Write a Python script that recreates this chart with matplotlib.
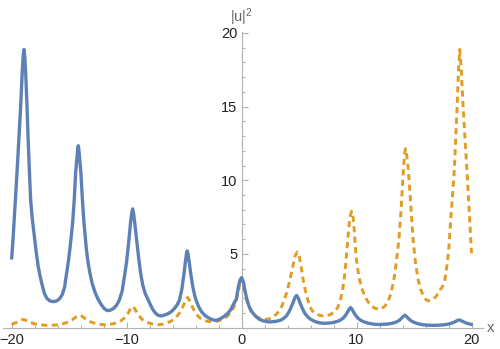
import matplotlib
matplotlib.use("Agg")
import matplotlib.pyplot as plt
from matplotlib.ticker import MultipleLocator

# |u|^2, solid curve
blue_x = [-20.0, -19.9, -19.8, -19.67, -19.54, -19.38, -19.22, -19.08, -19.0, -18.93,
          -18.86, -18.78, -18.68, -18.58, -18.47, -18.35, -18.2, -18.06, -17.88, -17.69,
          -17.53, -17.39, -17.16, -16.95, -16.7, -16.43, -16.15,
          -16.0, -15.8, -15.6, -15.4, -15.22, -15.05, -14.9, -14.7, -14.55, -14.44,
          -14.32, -14.26, -14.21, -14.16, -14.1, -13.98, -13.85, -13.71, -13.5, -13.35,
          -13.19, -13.0, -12.75, -12.5, -12.2, -11.95, -11.74, -11.55,
          -11.4, -11.15, -10.9, -10.65, -10.4, -10.15, -10.0, -9.8, -9.65, -9.55, -9.48,
          -9.41, -9.31, -9.13, -8.95, -8.78, -8.6, -8.4, -8.12, -7.9, -7.7, -7.5, -7.3,
          -7.1, -6.9,
          -6.7, -6.4, -6.1, -5.85, -5.6, -5.4, -5.2, -5.02, -4.9, -4.8, -4.73, -4.66,
          -4.55, -4.43, -4.25, -4.1, -3.97, -3.75, -3.5, -3.2, -2.9, -2.6, -2.32, -2.05,
          -1.8, -1.5, -1.2, -0.95, -0.7, -0.45, -0.3, -0.15, 0.0, 0.15, 0.3, 0.45, 0.65,
          0.85, 1.0, 1.25, 1.55, 1.9, 2.2, 2.46, 2.75,
          3.05, 3.35, 3.6, 3.85, 4.05, 4.25, 4.45, 4.62, 4.78, 4.94, 5.1, 5.3, 5.5, 5.72,
          5.98, 6.3, 6.65, 7.1, 7.5,
          7.9, 8.3, 8.6, 8.85, 9.05, 9.25, 9.38, 9.48, 9.58, 9.71, 9.91, 10.11, 10.36,
          10.7, 11.1, 11.5, 11.9, 12.3,
          12.7, 13.1, 13.45, 13.7, 13.9, 14.05, 14.2, 14.35, 14.5, 14.7, 14.95, 15.3,
          15.7, 16.2, 16.7, 17.1,
          17.5, 17.9, 18.2, 18.45, 18.65, 18.8, 18.92, 19.04, 19.2, 19.4, 19.65, 20.0]
blue_y = [4.71, 5.8, 7.1, 8.8, 10.49, 12.8, 15.0, 17.4, 18.5, 18.87,
          18.4, 17.2, 15.3, 13.0, 10.8, 8.66, 7.3, 6.41, 5.2, 4.14,
          3.5, 3.02, 2.34, 2.0, 1.83, 1.77, 1.8,
          1.86, 2.0, 2.25, 2.75, 3.69, 4.6, 5.6, 7.09, 8.8, 10.49,
          11.6, 12.1, 12.34, 12.1, 11.6, 10.49, 8.7, 7.09, 5.3, 4.4,
          3.69, 3.0, 2.4, 1.95, 1.55, 1.3, 1.18, 1.16,
          1.2, 1.3, 1.5, 1.85, 2.45, 3.69, 4.5, 5.96, 7.2, 7.8, 8.06,
          7.8, 7.2, 5.96, 4.7, 3.69, 2.9, 2.35, 1.88, 1.5, 1.2, 1.0, 0.86,
          0.8, 0.81,
          0.86, 0.95, 1.1, 1.3, 1.55, 1.9, 2.6, 3.6, 4.4, 5.0, 5.21, 5.0,
          4.4, 3.69, 2.8, 2.25, 1.88, 1.45, 1.1, 0.84, 0.68, 0.56, 0.5, 0.54,
          0.63, 0.78, 0.98, 1.22, 1.6, 1.95, 2.7, 3.2, 3.4, 3.1, 2.5, 1.95, 1.45,
          1.12, 0.98, 0.75, 0.57, 0.46, 0.41, 0.39, 0.41,
          0.44, 0.5, 0.6, 0.76, 0.98, 1.28, 1.65, 2.0, 2.19, 2.0, 1.65, 1.28, 0.98, 0.76,
          0.58, 0.45, 0.35, 0.3, 0.31,
          0.34, 0.42, 0.52, 0.66, 0.85, 1.1, 1.28, 1.37, 1.28, 1.1, 0.85, 0.66, 0.5,
          0.38, 0.29, 0.24, 0.22, 0.23,
          0.25, 0.3, 0.38, 0.49, 0.63, 0.76, 0.85, 0.76, 0.63, 0.49, 0.38, 0.28,
          0.21, 0.17, 0.16, 0.17,
          0.19, 0.23, 0.29, 0.36, 0.44, 0.5, 0.52, 0.5, 0.44, 0.36, 0.29, 0.22]

# dashed curve
orange_x = [-20.0, -19.75, -19.5, -19.3, -19.15, -19.0, -18.85, -18.65, -18.4, -18.1,
            -17.75, -17.35, -16.9, -16.45,
            -16.0, -15.6, -15.3, -15.0, -14.75, -14.5, -14.3, -14.1, -13.9, -13.7, -13.45,
            -13.2, -12.9, -12.6, -12.25, -11.9, -11.5,
            -11.1, -10.8, -10.5, -10.25, -10.05, -9.85, -9.7, -9.58, -9.48, -9.38, -9.26,
            -9.1, -8.9, -8.7, -8.45, -8.1, -7.7, -7.3, -6.9,
            -6.5, -6.15, -5.85, -5.6, -5.35, -5.15, -4.95, -4.82, -4.7, -4.58, -4.45,
            -4.25, -4.05, -3.8, -3.55, -3.25, -2.95, -2.6, -2.3,
            -2.0, -1.7, -1.4, -1.15, -0.9, -0.7, -0.5, -0.3, -0.15, 0.0, 0.15, 0.3, 0.45,
            0.6, 0.8, 1.05, 1.35, 1.7, 2.03, 2.35,
            2.7, 3.0, 3.25, 3.48, 3.7, 3.95, 4.2, 4.45, 4.65, 4.84, 5.0, 5.18, 5.36, 5.55,
            5.75, 5.94, 6.15, 6.4, 6.7, 7.05, 7.35,
            7.7, 8.05, 8.35, 8.6, 8.8, 8.97, 9.13, 9.28, 9.42, 9.57, 9.7, 9.82, 9.94, 10.1,
            10.25, 10.45, 10.7, 11.0, 11.35, 11.6, 11.88, 12.15,
            12.45, 12.75, 13.0, 13.24, 13.45, 13.68, 13.85, 13.97, 14.1, 14.18, 14.26,
            14.35, 14.48, 14.63, 14.78, 14.92, 15.12, 15.36, 15.6, 15.85, 16.05, 16.23, 16.45,
            16.7, 16.95, 17.2, 17.45, 17.68, 17.9, 18.05, 18.17, 18.33, 18.49, 18.62, 18.75,
            18.87, 18.98, 19.1, 19.27, 19.45, 19.62, 19.75, 19.85, 20.0]
orange_y = [0.22, 0.3, 0.4, 0.48, 0.53, 0.55, 0.53, 0.46, 0.37, 0.28,
            0.22, 0.18, 0.16, 0.17,
            0.2, 0.26, 0.33, 0.42, 0.53, 0.67, 0.79, 0.85, 0.79, 0.67, 0.53,
            0.42, 0.33, 0.27, 0.22, 0.2, 0.22,
            0.28, 0.36, 0.47, 0.62, 0.8, 1.02, 1.24, 1.38, 1.45, 1.38, 1.24,
            1.02, 0.8, 0.6, 0.45, 0.33, 0.24, 0.2, 0.23,
            0.32, 0.44, 0.6, 0.8, 1.06, 1.36, 1.7, 1.92, 2.05, 1.92, 1.7,
            1.36, 1.06, 0.8, 0.62, 0.5, 0.43, 0.4, 0.42,
            0.47, 0.55, 0.68, 0.85, 1.08, 1.35, 1.75, 2.4, 3.0, 3.35, 3.0, 2.4, 1.9,
            1.5, 1.18, 0.92, 0.73, 0.61, 0.56, 0.59,
            0.7, 0.9, 1.12, 1.43, 1.85, 2.45, 3.24, 4.15, 4.85, 5.14, 4.9, 4.15, 3.24, 2.5,
            1.9, 1.43, 1.15, 0.98, 0.86, 0.8, 0.82,
            0.88, 1.05, 1.35, 1.9, 2.6, 3.6, 5.0, 6.4, 7.5, 7.9, 7.5, 6.4, 5.0, 4.0,
            3.3, 2.7, 2.15, 1.75, 1.45, 1.32, 1.26, 1.3,
            1.45, 1.8, 2.35, 3.24, 4.4, 5.96, 7.7, 9.35, 11.0, 11.8, 12.14,
            11.8, 10.9, 9.35, 7.6, 5.96, 4.45, 3.24, 2.55, 2.1, 1.9, 1.82, 1.85,
            1.95, 2.15, 2.5, 2.75, 3.24, 4.4, 5.6, 7.09, 8.8, 10.49, 12.7, 15.01,
            17.5, 18.87, 17.6, 15.01, 12.6, 10.49, 8.6, 7.09, 5.05]

x_ticks = [-20, -10, 0, 10, 20]
x_tick_labels = ["\u221220", "\u221210", "0", "10", "20"]
y_ticks = [5, 10, 15, 20]

axis_gray = "#b3b3b3"
label_gray = "#666666"
plt.rcParams["font.family"] = ["Liberation Sans", "DejaVu Sans"]

fig = plt.figure(figsize=(5.0, 3.49), dpi=100)
ax = fig.add_axes([0.005, 0.061, 0.961, 0.848])

ax.plot(blue_x, blue_y, color="#5e81b5", lw=2.4, solid_joinstyle="round",
        solid_capstyle="round", zorder=3)
ax.plot(orange_x, orange_y, color="#e19c24", lw=2.1, dashes=[2.1, 1.5],
        dash_joinstyle="round", zorder=2)

ax.set_xlim(-20.8, 21.0)
ax.set_ylim(0, 20.07)

for side in ["top", "right"]:
    ax.spines[side].set_visible(False)
ax.spines["left"].set_position(("data", 0))
ax.spines["bottom"].set_position(("data", 0))
for side in ["left", "bottom"]:
    ax.spines[side].set_color(axis_gray)
    ax.spines[side].set_linewidth(0.8)

ax.set_xticks(x_ticks)
ax.set_xticklabels(x_tick_labels)
ax.set_yticks(y_ticks)
ax.xaxis.set_minor_locator(MultipleLocator(2))
ax.yaxis.set_minor_locator(MultipleLocator(1))
ax.tick_params(which="both", direction="in", color=axis_gray, width=0.8,
               labelsize=10.5, labelcolor="#222222")
ax.tick_params(which="major", length=4.5)
ax.tick_params(which="minor", length=2.5)
ax.tick_params(axis="x", pad=4)
ax.tick_params(axis="y", pad=3)

ax.text(21.3, 0, "x", ha="left", va="center", fontsize=10.5, color=label_gray, clip_on=False)
ax.text(0, 20.35, r"$\mathregular{|u|^2}$", ha="center", va="bottom", fontsize=10.5,
        color=label_gray, clip_on=False)

fig.savefig("out.png", dpi=100)
